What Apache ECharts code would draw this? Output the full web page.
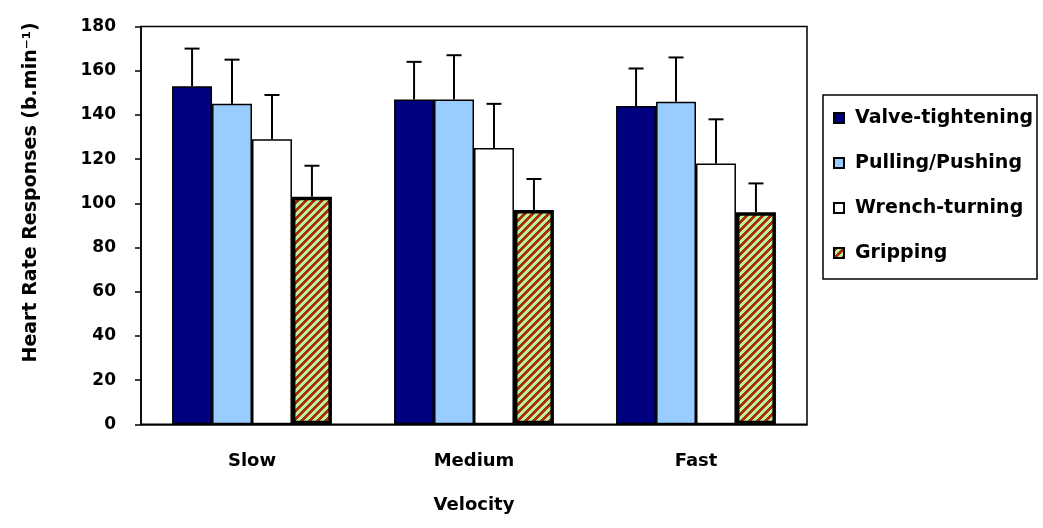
<!DOCTYPE html>
<html>
<head>
<meta charset="utf-8">
<script src="https://cdn.jsdelivr.net/npm/echarts@6/dist/echarts.min.js"></script>
<style>html,body{margin:0;padding:0;background:#fff}#c{width:1043px;height:528px}</style>
</head>
<body>
<div id="c"></div>
<script>
const categories = ['Slow', 'Medium', 'Fast'];
const seriesNames = ['Valve-tightening', 'Pulling/Pushing', 'Wrench-turning', 'Gripping'];
const valveMean = [153, 147, 144];
const valveSD = [17, 17, 17];
const pullMean = [145, 147, 146];
const pullSD = [20, 20, 20];
const wrenchMean = [129, 125, 118];
const wrenchSD = [20, 20, 20];
const gripMean = [103, 97, 96];
const gripSD = [14, 14, 13];
const yTicks = [0, 20, 40, 60, 80, 100, 120, 140, 160, 180];

const means = [valveMean, pullMean, wrenchMean, gripMean];
const sds = [valveSD, pullSD, wrenchSD, gripSD];

// hatch pattern for Gripping
const P = 8;
const pc = document.createElement('canvas');
pc.width = P; pc.height = P;
const pctx = pc.getContext('2d');
for (let x = 0; x < P; x++) {
  for (let y = 0; y < P; y++) {
    pctx.fillStyle = ((x + y) % P < P / 2) ? '#a83200' : '#bdeea6';
    pctx.fillRect(x, y, 1, 1);
  }
}
const gripColor = { image: pc, repeat: 'repeat' };

const font = 'DejaVu Sans';
const colors = ['#000080', '#99ccff', '#ffffff', gripColor];
const borderW = [1.5, 1.5, 1.5, 3.5];

const errData = [];
for (let s = 0; s < 4; s++) {
  for (let c = 0; c < categories.length; c++) {
    errData.push([c, means[s][c] + sds[s][c], s, means[s][c]]);
  }
}

const barSeries = seriesNames.map((n, i) => ({
  name: n,
  type: 'bar',
  data: means[i],
  barGap: '0%',
  barCategoryGap: '28%',
  itemStyle: { color: colors[i], borderColor: '#000', borderWidth: borderW[i] },
  emphasis: { disabled: true },
  z: 2
}));

const errSeries = {
  type: 'custom',
  silent: true,
  z: 3,
  data: errData,
  encode: { x: 0, y: 1 },
  renderItem: function (params, api) {
    const c = api.value(0), top = api.value(1), s = api.value(2), m = api.value(3);
    const catW = api.size([1, 0])[0];
    const barW = catW * 0.72 / 4;
    const base = api.coord([c, m]);
    const tp = api.coord([c, top]);
    const x = base[0] + (s - 1.5) * barW;
    const hw = 7.5;
    return {
      type: 'group',
      children: [
        { type: 'line', shape: { x1: x, y1: base[1], x2: x, y2: tp[1] }, style: { stroke: '#000', lineWidth: 2 } },
        { type: 'line', shape: { x1: x - hw, y1: tp[1], x2: x + hw, y2: tp[1] }, style: { stroke: '#000', lineWidth: 2 } }
      ]
    };
  }
};

const chart = echarts.init(document.getElementById('c'), null, { renderer: 'canvas' });
chart.setOption({
  animation: false,
  backgroundColor: '#fff',
  grid: { left: 141, right: 236, top: 26.5, bottom: 103.7, show: true, borderColor: '#000', borderWidth: 1.5, backgroundColor: 'transparent' },
  legend: {
    orient: 'vertical',
    left: 823,
    top: 95,
    data: seriesNames,
    icon: 'rect',
    itemWidth: 10,
    itemHeight: 10,
    itemGap: 23,
    padding: [12, 4, 15, 10],
    backgroundColor: '#fff',
    borderColor: '#000',
    borderWidth: 1.5,
    borderRadius: 0,
    selectedMode: false,
    textStyle: { fontFamily: font, fontWeight: 'bold', fontSize: 19, color: '#000', lineHeight: 22, padding: [0, 0, 0, 6] }
  },
  xAxis: {
    type: 'category',
    data: categories,
    name: 'Velocity',
    nameLocation: 'middle',
    nameGap: 72,
    nameTextStyle: { fontFamily: font, fontWeight: 'bold', fontSize: 18, color: '#000' },
    axisLine: { lineStyle: { color: '#000', width: 1.5 } },
    axisTick: { show: false },
    axisLabel: { margin: 28, fontFamily: font, fontWeight: 'bold', fontSize: 18, color: '#000' },
    splitLine: { show: false }
  },
  yAxis: {
    type: 'value',
    min: yTicks[0],
    max: yTicks[yTicks.length - 1],
    interval: 20,
    name: 'Heart Rate Responses (b.min\u207B\u00B9)',
    nameLocation: 'middle',
    nameGap: 100,
    nameTextStyle: { fontFamily: font, fontWeight: 'bold', fontSize: 19, color: '#000', padding: [0, 0, 0, 66] },
    axisLine: { show: true, lineStyle: { color: '#000', width: 1.5 } },
    axisTick: { show: true, length: 6, lineStyle: { color: '#000', width: 1.5 } },
    axisLabel: { margin: 25, fontFamily: font, fontWeight: 'bold', fontSize: 17, color: '#000' },
    splitLine: { show: false }
  },
  series: barSeries.concat([errSeries])
});
</script>
</body>
</html>
